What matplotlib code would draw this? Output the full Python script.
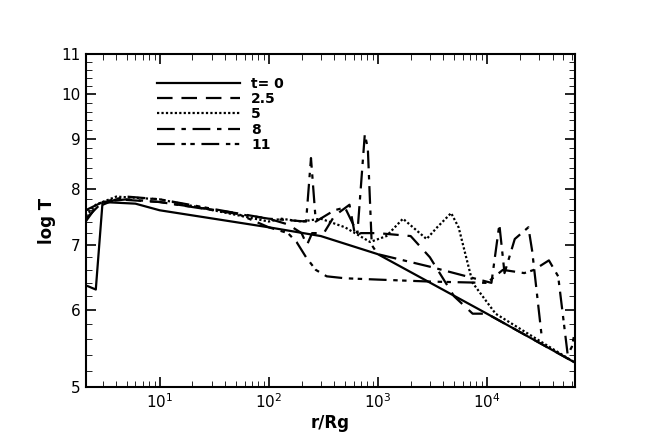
import matplotlib.pyplot as plt
import numpy as np
from matplotlib.ticker import FixedLocator, NullFormatter, LogLocator

# t = 0
r0 = [2.2, 2.6, 3.0, 6, 10, 100, 300, 1000, 1e4, 6.4e4]
T0 = [6.35, 6.3, 7.75, 7.72, 7.6, 7.3, 7.15, 6.85, 5.95, 5.3]
# t = 2.5
r1 = [2.1, 2.6, 4, 10, 50, 100, 150, 200, 224, 250, 320, 400, 550, 620, 700, 1000, 2000, 3000, 5000, 7400, 1e4, 6.4e4]
T1 = [7.4, 7.65, 7.8, 7.75, 7.55, 7.45, 7.35, 7.2, 7.0, 7.2, 7.2, 7.5, 7.7, 7.15, 7.2, 7.2, 7.15, 6.8, 6.2, 5.95, 5.95, 5.3]
# t = 5
r2 = [2.1, 2.6, 4, 10, 100, 130, 200, 300, 500, 850, 1200, 1700, 2800, 3500, 4700, 5500, 7400, 1.2e4, 6.4e4]
T2 = [7.5, 7.7, 7.85, 7.8, 7.4, 7.45, 7.4, 7.45, 7.3, 7.05, 7.15, 7.45, 7.1, 7.3, 7.55, 7.3, 6.4, 5.95, 5.3]
# t = 8
r3 = [2.1, 3, 5, 10, 100, 220, 244, 270, 400, 500, 650, 760, 810, 880, 1000, 3000, 1.1e4, 1.3e4, 1.45e4, 1.8e4, 2.4e4, 2.6e4, 3.2e4]
T3 = [7.45, 7.75, 7.8, 7.75, 7.45, 7.4, 8.6, 7.4, 7.6, 7.65, 7.2, 9.1, 8.8, 7.0, 6.85, 6.65, 6.4, 7.35, 6.55, 7.1, 7.3, 6.9, 5.6]
# t = 11
r4 = [2.1, 3, 5, 10, 50, 100, 150, 180, 220, 270, 340, 500, 1000, 3000, 1e4, 1.4e4, 2.2e4, 2.7e4, 3.7e4, 4.5e4, 5.5e4, 6e4, 6.4e4]
T4 = [7.6, 7.75, 7.85, 7.8, 7.55, 7.3, 7.2, 7.05, 6.8, 6.6, 6.5, 6.47, 6.45, 6.42, 6.4, 6.6, 6.55, 6.6, 6.75, 6.5, 5.4, 5.5, 5.7]

labels = ["t= 0", "2.5", "5", "8", "11"]
styles = ["-", (0, (7, 4)), (0, (1, 1)), (0, (8, 3, 2, 3)), (0, (8, 3, 2, 2, 2, 3))]

fig = plt.figure(figsize=(6.54, 4.36), dpi=100)
ax = fig.add_axes([0.131, 0.112, 0.748, 0.764])
for r, T, lab, ls in zip([r0, r1, r2, r3, r4], [T0, T1, T2, T3, T4], labels, styles):
    ax.plot(r, T, color="black", linestyle=ls, linewidth=1.6, label=lab)

ax.set_xscale("log")
ax.set_yscale("log")
ax.set_xlim(2.1, 6.4e4)
ax.set_ylim(5, 11)
ax.yaxis.set_major_locator(FixedLocator([5, 6, 7, 8, 9, 10, 11]))
ax.yaxis.set_minor_locator(FixedLocator(np.arange(5.2, 11, 0.2)))
ax.yaxis.set_major_formatter(plt.FuncFormatter(lambda v, p: f"{v:g}"))
ax.yaxis.set_minor_formatter(NullFormatter())
ax.xaxis.set_major_locator(LogLocator(base=10, numticks=10))
ax.xaxis.set_minor_locator(LogLocator(base=10, subs=np.arange(2, 10), numticks=20))
ax.tick_params(which="both", direction="in", top=True, right=True, labelsize=11)
ax.tick_params(which="major", length=7, width=1.2)
ax.tick_params(which="minor", length=4)
for s in ax.spines.values():
    s.set_linewidth(1.5)
ax.set_xlabel("r/Rg", fontsize=12, fontweight="bold", labelpad=2)
ax.set_ylabel("log T", fontsize=12, fontweight="bold")

leg = ax.legend(loc="upper left", bbox_to_anchor=(0.12, 0.97), frameon=False,
                handlelength=6, labelspacing=0.1, fontsize=10, prop={"weight": "bold"})
plt.savefig("out.png", dpi=100)
